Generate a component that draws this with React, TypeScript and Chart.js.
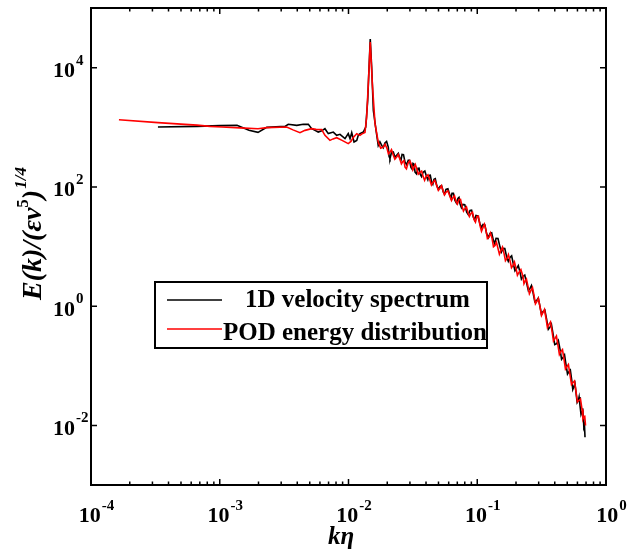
import React, { useEffect, useRef } from "react";
import { Chart, registerables } from "chart.js";

Chart.register(...registerables);

// Values as [log10(kη), log10(E)] pairs
const blackSpectrum: number[][] = [
  [-3.480, 3.003], [-3.177, 3.015], [-2.998, 3.027], [-2.866, 3.032], [-2.773, 2.948],
  [-2.703, 2.914], [-2.635, 2.998], [-2.563, 3.007], [-2.493, 3.015], [-2.468, 3.049],
  [-2.402, 3.032], [-2.351, 3.049], [-2.312, 3.049], [-2.286, 2.976], [-2.260, 2.948],
  [-2.235, 2.919], [-2.208, 2.940], [-2.183, 2.976], [-2.157, 2.893], [-2.118, 2.919],
  [-2.092, 2.864], [-2.066, 2.881], [-2.027, 2.809], [-2.002, 2.893], [-1.988, 2.809],
  [-1.975, 2.909], [-1.957, 2.752], [-1.936, 2.780], [-1.924, 2.864], [-1.911, 2.893],
  [-1.885, 2.919], [-1.866, 3.003], [-1.851, 3.451], [-1.838, 4.122], [-1.831, 4.480],
  [-1.820, 4.010], [-1.807, 3.283], [-1.786, 2.948],
  [-1.769, 2.696], [-1.756, 2.756], [-1.742, 2.696], [-1.730, 2.656], [-1.717, 2.735],
  [-1.704, 2.762], [-1.691, 2.668], [-1.685, 2.511], [-1.678, 2.473], [-1.665, 2.589],
  [-1.652, 2.584], [-1.639, 2.496], [-1.626, 2.528], [-1.613, 2.561], [-1.600, 2.473],
  [-1.592, 2.449], [-1.584, 2.545], [-1.573, 2.541], [-1.561, 2.416], [-1.549, 2.371],
  [-1.536, 2.445], [-1.526, 2.446], [-1.515, 2.327], [-1.507, 2.301], [-1.499, 2.394],
  [-1.491, 2.381], [-1.483, 2.248], [-1.472, 2.219], [-1.460, 2.310], [-1.453, 2.326],
  [-1.445, 2.221], [-1.433, 2.172], [-1.421, 2.243], [-1.407, 2.264], [-1.393, 2.164],
  [-1.384, 2.119], [-1.375, 2.193], [-1.365, 2.197], [-1.354, 2.080], [-1.345, 2.043],
  [-1.336, 2.126], [-1.326, 2.136], [-1.315, 2.025], [-1.302, 1.957], [-1.289, 2.008],
  [-1.277, 2.021], [-1.264, 1.913], [-1.254, 1.876], [-1.243, 1.958], [-1.228, 1.968],
  [-1.212, 1.857], [-1.204, 1.814], [-1.196, 1.891], [-1.185, 1.892], [-1.173, 1.773],
  [-1.162, 1.730], [-1.150, 1.807], [-1.142, 1.823], [-1.134, 1.718], [-1.123, 1.652],
  [-1.111, 1.706], [-1.097, 1.702], [-1.082, 1.577], [-1.069, 1.532], [-1.056, 1.606],
  [-1.044, 1.610], [-1.031, 1.493], [-1.021, 1.448], [-1.010, 1.522], [-0.995, 1.512],
  [-0.979, 1.382], [-0.967, 1.317], [-0.955, 1.371], [-0.941, 1.363], [-0.927, 1.215],
  [-0.914, 1.148], [-0.901, 1.220], [-0.888, 1.231], [-0.875, 1.102], [-0.865, 1.049],
  [-0.854, 1.136], [-0.839, 1.133], [-0.823, 0.990], [-0.812, 0.909], [-0.800, 0.968],
  [-0.786, 0.965], [-0.771, 0.822], [-0.759, 0.750], [-0.746, 0.817], [-0.733, 0.844],
  [-0.720, 0.711], [-0.707, 0.592], [-0.694, 0.632], [-0.681, 0.681], [-0.668, 0.570],
  [-0.657, 0.454], [-0.645, 0.498], [-0.631, 0.520], [-0.616, 0.381], [-0.603, 0.259],
  [-0.590, 0.297], [-0.579, 0.344], [-0.567, 0.230], [-0.553, 0.073], [-0.538, 0.095],
  [-0.526, 0.135], [-0.513, -0.005], [-0.501, -0.137], [-0.489, -0.089], [-0.475, -0.066],
  [-0.461, -0.223], [-0.448, -0.388], [-0.435, -0.353], [-0.424, -0.306], [-0.412, -0.458],
  [-0.398, -0.645], [-0.383, -0.631], [-0.370, -0.579], [-0.357, -0.727], [-0.345, -0.892],
  [-0.332, -0.856], [-0.322, -0.817], [-0.311, -0.978], [-0.299, -1.137], [-0.287, -1.096],
  [-0.277, -1.072], [-0.266, -1.247], [-0.258, -1.397], [-0.249, -1.347], [-0.241, -1.298],
  [-0.233, -1.448], [-0.224, -1.615], [-0.215, -1.582], [-0.209, -1.524], [-0.202, -1.666],
  [-0.194, -1.817], [-0.186, -1.767], [-0.181, -1.715], [-0.176, -1.863], [-0.172, -2.033],
  [-0.167, -2.002], [-0.163, -2.198],
];

const podEnergy: number[][] = [
  [-3.783, 3.127], [-3.480, 3.077], [-3.301, 3.052], [-3.177, 3.035], [-3.076, 3.015],
  [-2.983, 3.005], [-2.843, 2.990], [-2.703, 2.976], [-2.635, 2.993], [-2.480, 3.003],
  [-2.431, 2.956], [-2.377, 2.909], [-2.338, 2.948], [-2.286, 2.976], [-2.252, 2.965],
  [-2.208, 2.960], [-2.183, 2.864], [-2.144, 2.780], [-2.120, 2.805], [-2.092, 2.825],
  [-2.050, 2.780], [-2.002, 2.725], [-1.981, 2.763], [-1.963, 2.830], [-1.936, 2.893],
  [-1.911, 2.864], [-1.895, 2.889], [-1.872, 2.914], [-1.859, 3.171], [-1.846, 3.731],
  [-1.831, 4.430], [-1.815, 3.731], [-1.794, 3.060],
  [-1.769, 2.752], [-1.750, 2.650], [-1.730, 2.668], [-1.716, 2.717], [-1.701, 2.646],
  [-1.690, 2.555], [-1.678, 2.584], [-1.666, 2.625], [-1.654, 2.545], [-1.640, 2.463],
  [-1.626, 2.500], [-1.613, 2.541], [-1.600, 2.461], [-1.589, 2.385], [-1.577, 2.428],
  [-1.569, 2.440], [-1.561, 2.332], [-1.550, 2.303], [-1.538, 2.394], [-1.524, 2.438],
  [-1.509, 2.361], [-1.500, 2.284], [-1.491, 2.327], [-1.481, 2.376], [-1.470, 2.305],
  [-1.458, 2.214], [-1.445, 2.243], [-1.432, 2.264], [-1.419, 2.164], [-1.409, 2.110],
  [-1.398, 2.176], [-1.383, 2.203], [-1.367, 2.109], [-1.356, 2.032], [-1.344, 2.075],
  [-1.330, 2.110], [-1.315, 2.025], [-1.302, 1.940], [-1.289, 1.975], [-1.278, 2.018],
  [-1.266, 1.941], [-1.255, 1.865], [-1.243, 1.908], [-1.228, 1.934], [-1.212, 1.840],
  [-1.200, 1.772], [-1.188, 1.824], [-1.177, 1.851], [-1.165, 1.757], [-1.154, 1.714],
  [-1.142, 1.790], [-1.130, 1.792], [-1.118, 1.673], [-1.107, 1.596], [-1.095, 1.639],
  [-1.084, 1.666], [-1.072, 1.572], [-1.061, 1.504], [-1.049, 1.555], [-1.037, 1.575],
  [-1.025, 1.455], [-1.014, 1.410], [-1.002, 1.505], [-0.991, 1.510], [-0.979, 1.354],
  [-0.967, 1.257], [-0.955, 1.320], [-0.944, 1.375], [-0.932, 1.270], [-0.921, 1.132],
  [-0.909, 1.153], [-0.897, 1.225], [-0.885, 1.136], [-0.874, 0.997], [-0.862, 1.018],
  [-0.851, 1.073], [-0.839, 0.968], [-0.828, 0.871], [-0.816, 0.934], [-0.804, 0.989],
  [-0.792, 0.884], [-0.781, 0.762], [-0.769, 0.800], [-0.758, 0.864], [-0.746, 0.767],
  [-0.734, 0.645], [-0.722, 0.683], [-0.711, 0.738], [-0.699, 0.632], [-0.688, 0.519],
  [-0.676, 0.565], [-0.661, 0.612], [-0.645, 0.498], [-0.637, 0.376], [-0.629, 0.414],
  [-0.618, 0.452], [-0.606, 0.330], [-0.595, 0.207], [-0.583, 0.263], [-0.571, 0.311],
  [-0.559, 0.179], [-0.548, 0.039], [-0.536, 0.079], [-0.525, 0.127], [-0.513, -0.005],
  [-0.501, -0.156], [-0.489, -0.106], [-0.478, -0.057], [-0.466, -0.207], [-0.455, -0.357],
  [-0.443, -0.307], [-0.431, -0.266], [-0.419, -0.425], [-0.408, -0.584], [-0.396, -0.542],
  [-0.385, -0.501], [-0.373, -0.660], [-0.362, -0.810], [-0.350, -0.760], [-0.338, -0.728],
  [-0.326, -0.895], [-0.315, -1.054], [-0.303, -1.012], [-0.292, -0.979], [-0.280, -1.146],
  [-0.268, -1.314], [-0.256, -1.281], [-0.245, -1.257], [-0.233, -1.432], [-0.222, -1.607],
  [-0.210, -1.582], [-0.198, -1.558], [-0.186, -1.734], [-0.179, -1.893], [-0.171, -1.851],
  [-0.165, -1.847], [-0.159, -2.002],
];

const xTickExponents = [-4, -3, -2, -1, 0];
const xMinorMultipliers = [2, 3, 4, 5, 6, 7, 8, 9];
const yTickExponents = [4, 2, 0, -2];
const seriesLabels = ["1D velocity spectrum", "POD energy distribution"];
const xTitle = "kη";

const FONT = '"Liberation Serif", "Times New Roman", serif';

const toPoints = (pairs: number[][]) =>
  pairs.map(([lk, le]) => ({ x: Math.pow(10, lk), y: Math.pow(10, le) }));

const decorPlugin = {
  id: "decor",
  afterDraw(chart: any) {
    const { ctx, chartArea: a, scales } = chart;
    const xs = scales.x;
    const ys = scales.y;
    ctx.save();
    ctx.strokeStyle = "#000";
    ctx.fillStyle = "#000";

    // frame
    ctx.lineWidth = 2;
    ctx.strokeRect(a.left, a.top, a.right - a.left, a.bottom - a.top);

    // x ticks (bottom and top, inward)
    ctx.lineWidth = 1.5;
    const vline = (px: number, len: number) => {
      ctx.beginPath();
      ctx.moveTo(px, a.bottom);
      ctx.lineTo(px, a.bottom - len);
      ctx.moveTo(px, a.top);
      ctx.lineTo(px, a.top + len);
      ctx.stroke();
    };
    xTickExponents.forEach((e) => {
      vline(xs.getPixelForValue(Math.pow(10, e)), 6);
      if (e < 0) {
        xMinorMultipliers.forEach((m) => {
          vline(xs.getPixelForValue(m * Math.pow(10, e)), 3.5);
        });
      }
    });
    // y ticks (left and right, inward)
    yTickExponents.forEach((e) => {
      const py = ys.getPixelForValue(Math.pow(10, e));
      ctx.beginPath();
      ctx.moveTo(a.left, py);
      ctx.lineTo(a.left + 6, py);
      ctx.moveTo(a.right, py);
      ctx.lineTo(a.right - 6, py);
      ctx.stroke();
    });

    // tick labels
    const mainFont = `bold 22px ${FONT}`;
    const supFont = `bold 15px ${FONT}`;
    ctx.textBaseline = "alphabetic";
    ctx.textAlign = "left";
    xTickExponents.forEach((e) => {
      const px = xs.getPixelForValue(Math.pow(10, e));
      ctx.font = mainFont;
      const w1 = ctx.measureText("10").width;
      ctx.font = supFont;
      const sup = String(e);
      const w2 = ctx.measureText(sup).width;
      const x0 = px - (w1 + w2) / 2 + 5;
      ctx.font = mainFont;
      ctx.fillText("10", x0, a.bottom + 37);
      ctx.font = supFont;
      ctx.fillText(sup, x0 + w1 + 1, a.bottom + 25);
    });
    yTickExponents.forEach((e) => {
      const py = ys.getPixelForValue(Math.pow(10, e));
      ctx.font = mainFont;
      const w1 = ctx.measureText("10").width;
      ctx.fillText("10", 53, py + 9.5);
      ctx.font = supFont;
      ctx.fillText(String(e), 53 + w1 + 1, py - 3);
    });

    // x title
    ctx.font = `italic bold 25px ${FONT}`;
    ctx.fillText(xTitle, 328, 544);

    // y title (rotated)
    ctx.save();
    ctx.translate(41, 300);
    ctx.rotate(-Math.PI / 2);
    let cx = 0;
    const piece = (t: string, font: string, dy: number) => {
      ctx.font = font;
      ctx.fillText(t, cx, dy);
      cx += ctx.measureText(t).width;
    };
    const tf = `italic bold 28px ${FONT}`;
    const ts = `bold 17px ${FONT}`;
    const tsi = `italic bold 17px ${FONT}`;
    piece("E(k)/(εν", tf, 0);
    piece("5", ts, -13);
    piece(")", tf, 0);
    cx += 1;
    piece("1/4", tsi, -15);
    ctx.restore();

    // legend
    ctx.fillStyle = "#fff";
    ctx.fillRect(155, 282, 332, 66);
    ctx.fillStyle = "#000";
    ctx.lineWidth = 2;
    ctx.strokeRect(155, 282, 332, 66);
    ctx.lineWidth = 1.5;
    ctx.strokeStyle = "#000";
    ctx.beginPath();
    ctx.moveTo(167, 300);
    ctx.lineTo(222, 300);
    ctx.stroke();
    ctx.strokeStyle = "#ff0000";
    ctx.beginPath();
    ctx.moveTo(167, 329);
    ctx.lineTo(222, 329);
    ctx.stroke();
    ctx.font = `bold 25px ${FONT}`;
    ctx.fillText(seriesLabels[0], 245, 307);
    ctx.fillText(seriesLabels[1], 223, 340);

    ctx.restore();
  },
};

export default function App() {
  const ref = useRef<HTMLCanvasElement>(null);
  useEffect(() => {
    if (!ref.current) return;
    const chart = new Chart(ref.current, {
      type: "line",
      data: {
        datasets: [
          {
            label: seriesLabels[0],
            data: toPoints(blackSpectrum),
            borderColor: "#000000",
            borderWidth: 1.6,
            pointRadius: 0,
            tension: 0,
            order: 1,
          },
          {
            label: seriesLabels[1],
            data: toPoints(podEnergy),
            borderColor: "#ff0000",
            borderWidth: 1.6,
            pointRadius: 0,
            tension: 0,
            order: 0,
          },
        ],
      },
      options: {
        responsive: false,
        animation: false,
        devicePixelRatio: 1,
        layout: { padding: { left: 91, right: 21, top: 8, bottom: 72 } },
        plugins: { legend: { display: false }, tooltip: { enabled: false } },
        scales: {
          x: { type: "logarithmic", min: 1e-4, max: 1, display: false },
          y: { type: "logarithmic", min: 1e-3, max: 1e5, display: false },
        },
      },
      plugins: [decorPlugin],
    });
    return () => chart.destroy();
  }, []);
  return (
    <div style={{ position: "fixed", left: 0, top: 0, width: 627, height: 557, background: "#fff" }}>
      <canvas ref={ref} width={627} height={557} />
    </div>
  );
}
